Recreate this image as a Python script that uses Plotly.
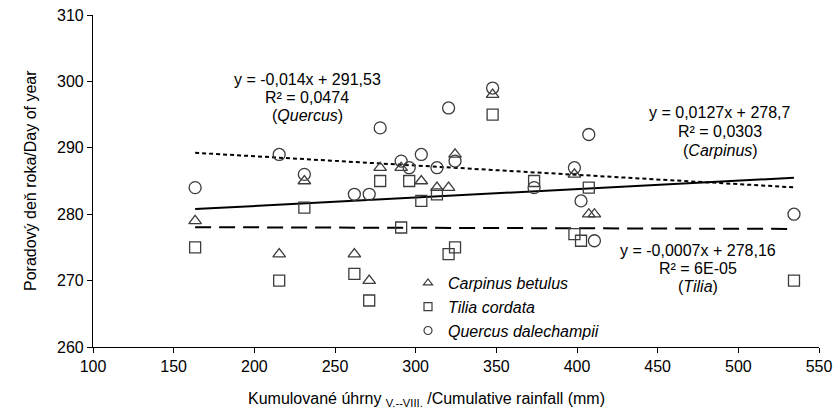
import plotly.graph_objects as go

# rainfall (mm), one value per year
rain = [163.3, 215.4, 231.0, 262.0, 271.2, 278.0, 291.0, 296.0, 303.5, 313.2,
        320.4, 324.4, 347.7, 373.4, 398.4, 402.5, 407.3, 410.8, 534.5]
# day of year per species (None = not visible / hidden)
carpinus = [279, 274, 285, 274, 270, 287, 287, None, 285, 284,
            284, 289, 298, None, 286, None, 280, 280, None]
tilia = [275, 270, 281, 271, 267, 285, 278, 285, 282, 283,
         274, 275, 295, 285, 277, 276, 284, None, 270]
quercus = [284, 289, 286, 283, 283, 293, 288, 287, 289, 287,
           296, 288, 299, 284, 287, 282, 292, 276, 280]

# regression coefficients printed on the chart
carp_slope, carp_icpt = 0.0127, 278.7
tilia_slope, tilia_icpt = -0.0007, 278.16
quer_slope, quer_icpt = -0.014, 291.53

x_ticks = [100, 150, 200, 250, 300, 350, 400, 450, 500, 550]
y_ticks = [260, 270, 280, 290, 300, 310]

FONT = "Liberation Sans, Arial, sans-serif"
MK = "#3c3c3c"

fig = go.Figure()

xr = [min(rain), max(rain)]
# trend lines
fig.add_trace(go.Scatter(x=xr, y=[quer_slope * v + quer_icpt for v in xr], mode="lines",
                         line=dict(color="black", width=2, dash="4px,3px"), showlegend=False))
fig.add_trace(go.Scatter(x=xr, y=[carp_slope * v + carp_icpt for v in xr], mode="lines",
                         line=dict(color="black", width=2), showlegend=False))
fig.add_trace(go.Scatter(x=xr, y=[tilia_slope * v + tilia_icpt for v in xr], mode="lines",
                         line=dict(color="black", width=2, dash="16px,8px"), showlegend=False))

# data points
fig.add_trace(go.Scatter(x=rain, y=carpinus, mode="markers", showlegend=False,
                         marker=dict(symbol="triangle-up-open", size=11, color=MK, line=dict(width=1.3, color=MK))))
fig.add_trace(go.Scatter(x=rain, y=tilia, mode="markers", showlegend=False,
                         marker=dict(symbol="square-open", size=11, color=MK, line=dict(width=1.3, color=MK))))
fig.add_trace(go.Scatter(x=rain, y=quercus, mode="markers", showlegend=False,
                         marker=dict(symbol="circle-open", size=12, color=MK, line=dict(width=1.3, color=MK))))

# legend entries
for name, sym in [("Carpinus betulus", "triangle-up-open"),
                  ("Tilia cordata", "square-open"),
                  ("Quercus dalechampii", "circle-open")]:
    fig.add_trace(go.Scatter(x=[None], y=[None], mode="markers", name=name,
                             marker=dict(symbol=sym, size=8, color=MK, line=dict(width=1.2, color=MK))))

def ann(text, x, y):
    fig.add_annotation(x=x, y=y, xref="x", yref="y", text=text, showarrow=False,
                       xanchor="center", yanchor="middle",
                       font=dict(family=FONT, size=16, color="black"))

ann("y = -0,014x + 291,53", 232.7, 300.3)
ann("R² = 0,0474", 232.7, 297.55)
ann("(<i>Quercus</i>)", 232.7, 294.8)

ann("y = 0,0127x + 278,7", 488.7, 295.3)
ann("R² = 0,0303", 488.7, 292.45)
ann("(<i>Carpinus</i>)", 488.7, 289.6)

ann("y = -0,0007x + 278,16", 475.0, 274.6)
ann("R² = 6E-05", 475.0, 271.85)
ann("(<i>Tilia</i>)", 475.0, 269.1)

# axis titles
fig.add_annotation(x=(426 - 93) / 726, y=-(399 - 347) / 332, xref="paper", yref="paper",
                   text="Kumulované úhrny <sub>V.--VIII.</sub> /Cumulative rainfall (mm)",
                   showarrow=False, xanchor="center", yanchor="middle",
                   font=dict(family=FONT, size=16, color="black"))
fig.add_annotation(x=(30 - 93) / 726, y=0.5, xref="paper", yref="paper",
                   text="Poradový deň roka/Day of year", textangle=-90,
                   showarrow=False, xanchor="center", yanchor="middle",
                   font=dict(family=FONT, size=16, color="black"))

fig.update_layout(
    width=834, height=416,
    margin=dict(l=93, r=15, t=15, b=69, autoexpand=False),
    paper_bgcolor="white", plot_bgcolor="white",
    font=dict(family=FONT, size=16, color="black"),
    showlegend=True,
    legend=dict(x=(408 - 93) / 726, y=1 - (266 - 15) / 332, xanchor="left", yanchor="top",
                bgcolor="rgba(0,0,0,0)", borderwidth=0, itemwidth=30,
                tracegroupgap=0,
                font=dict(family=FONT, size=16, color="black", style="italic")),
    xaxis=dict(range=[100, 550], tickvals=x_ticks, ticktext=[str(v) for v in x_ticks],
               showline=True, linecolor="black", linewidth=1.2, ticks="outside", ticklen=5,
               tickcolor="black", showgrid=False, zeroline=False,
               tickfont=dict(family=FONT, size=16, color="black")),
    yaxis=dict(range=[260, 310], tickvals=y_ticks, ticktext=[str(v) for v in y_ticks],
               showline=True, linecolor="black", linewidth=1.2, ticks="outside", ticklen=5,
               tickcolor="black", showgrid=False, zeroline=False,
               tickfont=dict(family=FONT, size=16, color="black")),
)

fig.write_html("out.html", config={"displayModeBar": False},
               post_script="document.body.style.margin='0';")
